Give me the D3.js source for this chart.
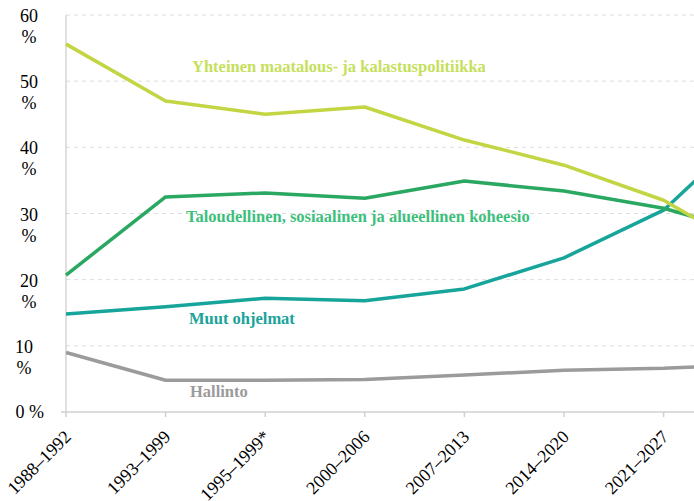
<!DOCTYPE html>
<html><head><meta charset="utf-8"><script src="https://cdn.jsdelivr.net/npm/d3@7"></script>
<style>body{margin:0}</style></head>
<body><svg id="chart" width="694" height="501" font-family="Liberation Serif"></svg>
<script>
// Periods (the last one runs past the right edge of the picture; its label is not visible)
const categories = ["1988–1992", "1993–1999", "1995–1999*", "2000–2006", "2007–2013", "2014–2020", "2021–2027", ""];

// Shares of the budget, %
const yhteinenMaatalous = [55.6, 47.0, 45.0, 46.1, 41.1, 37.3, 32.0, 23.3];
const koheesio          = [20.7, 32.5, 33.1, 32.3, 34.9, 33.4, 30.8, 26.5];
const muutOhjelmat      = [14.8, 15.9, 17.2, 16.8, 18.6, 23.3, 30.5, 44.5];
const hallinto          = [9.0, 4.8, 4.8, 4.9, 5.6, 6.3, 6.6, 7.3];

const yTicks = [0, 10, 20, 30, 40, 50, 60];

const seriesNames = [
  "Yhteinen maatalous- ja kalastuspolitiikka",
  "Taloudellinen, sosiaalinen ja alueellinen koheesio",
  "Muut ohjelmat",
  "Hallinto"
];

const series = [
  { name: seriesNames[0], values: yhteinenMaatalous, line: "#c3d542", text: "#c6e05c", lx: 192, lv: 51.4 },
  { name: seriesNames[1], values: koheesio,          line: "#2aa862", text: "#3dbf7c", lx: 186, lv: 28.7 },
  { name: seriesNames[2], values: muutOhjelmat,      line: "#17a59b", text: "#1aa39a", lx: 189, lv: 13.3 },
  { name: seriesNames[3], values: hallinto,          line: "#9b9b9b", text: "#9b9b9b", lx: 190, lv: 2.3 }
];

const W = 694, H = 501;
const svg = d3.select("#chart");
const FONT = '"Liberation Serif", monospace';

const x = d3.scalePoint().domain(categories.map((c, i) => i)).range([66, 66 + 7 * 99.6]);
const y = d3.scaleLinear().domain([0, 60]).range([412, 15]);

// gridlines
yTicks.filter(t => t > 0).forEach(t => {
  svg.append("line")
    .attr("x1", 66).attr("x2", W)
    .attr("y1", y(t)).attr("y2", y(t))
    .attr("stroke", "#dcdcdc")
    .attr("stroke-width", 1)
    .attr("stroke-dasharray", "4,4");
});

// y axis line
svg.append("line")
  .attr("x1", 66).attr("x2", 66)
  .attr("y1", y(60)).attr("y2", y(0))
  .attr("stroke", "#d6d6d6").attr("stroke-width", 1.5);

// x axis line
svg.append("line")
  .attr("x1", 61).attr("x2", W)
  .attr("y1", y(0)).attr("y2", y(0))
  .attr("stroke", "#d0d0d0").attr("stroke-width", 1.5);

// x ticks and labels
categories.forEach((c, i) => {
  svg.append("line")
    .attr("x1", x(i)).attr("x2", x(i))
    .attr("y1", y(0)).attr("y2", y(0) + 5)
    .attr("stroke", "#d0d0d0").attr("stroke-width", 1.5);
  if (c !== "") {
    svg.append("text")
      .attr("transform", `translate(${x(i) + 6},${y(0) + 26}) rotate(-45)`)
      .attr("text-anchor", "end")
      .style("font-family", FONT)
      .style("font-size", "18px")
      .attr("fill", "#000")
      .text(c);
  }
});

// y labels
yTicks.forEach(t => {
  if (t === 0) {
    svg.append("text")
      .attr("x", 44).attr("y", y(t) + 6)
      .attr("text-anchor", "end")
      .style("font-family", FONT).style("font-size", "18px")
      .text(`${t} %`);
  } else {
    const cx = t === 10 ? 24 : 29;
    svg.append("text")
      .attr("x", cx).attr("y", y(t) + 7)
      .attr("text-anchor", "middle")
      .style("font-family", FONT).style("font-size", "18px")
      .text(`${t}`);
    svg.append("text")
      .attr("x", cx).attr("y", y(t) + 28)
      .attr("text-anchor", "middle")
      .style("font-family", FONT).style("font-size", "18px")
      .text("%");
  }
});

// lines
const line = d3.line().x((d, i) => x(i)).y(d => y(d));
svg.append("clipPath").attr("id", "clip")
  .append("rect").attr("x", 0).attr("y", 0).attr("width", W).attr("height", H);

series.slice().reverse().forEach(s => {
  svg.append("path")
    .attr("clip-path", "url(#clip)")
    .attr("d", line(s.values))
    .attr("fill", "none")
    .attr("stroke", s.line)
    .attr("stroke-width", 3.5)
    .attr("stroke-linejoin", "round");
});

// series labels
series.forEach(s => {
  svg.append("text")
    .attr("x", s.lx)
    .attr("y", y(s.lv))
    .style("font-family", FONT)
    .style("font-weight", "bold")
    .style("font-size", "16.5px")
    .attr("fill", s.text)
    .text(s.name);
});
</script></body></html>
